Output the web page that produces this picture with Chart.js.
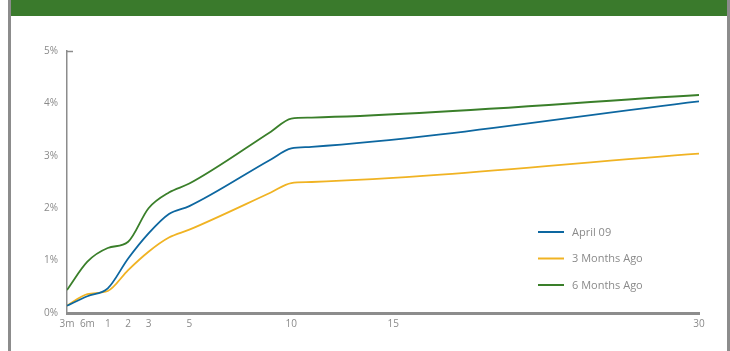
<!DOCTYPE html>
<html>
<head>
<meta charset="utf-8">
<script src="https://cdn.jsdelivr.net/npm/chart.js@4/dist/chart.umd.min.js"></script>
<style>
  body { margin: 0; background: #fff; }
  #wrap { position: relative; width: 730px; height: 351px; overflow: hidden; }
  #head { position: absolute; left: 11px; top: 0; width: 716px; height: 16px; background: #3a7a2c; }
  .bar { position: absolute; top: 0; width: 3px; height: 351px; background: #8c8c8c; }
  canvas { position: absolute; left: 0; top: 0; }
</style>
</head>
<body>
<div id="wrap">
  <div id="head"></div>
  <div class="bar" style="left:8px"></div>
  <div class="bar" style="left:727px"></div>
  <canvas id="yieldChart" width="730" height="351"></canvas>
</div>
<script>
// x positions on the axis (3m and 6m sit one step apart before year 1)
const maturities = [-1, 0, 1, 2, 3, 4, 5, 9, 10, 11, 30];
const tickPositions = [-1, 0, 1, 2, 3, 5, 10, 15, 30];
const tickLabels = ['3m', '6m', '1', '2', '3', '5', '10', '15', '30'];

const seriesNames = ['April 09', '3 Months Ago', '6 Months Ago'];
const april09 = [0.14, 0.32, 0.47, 1.04, 1.52, 1.89, 2.04, 2.93, 3.14, 3.17, 4.04];
const threeMonthsAgo = [0.14, 0.36, 0.42, 0.82, 1.17, 1.44, 1.59, 2.30, 2.48, 2.50, 3.04];
const sixMonthsAgo = [0.44, 0.98, 1.24, 1.36, 2.0, 2.3, 2.47, 3.46, 3.71, 3.73, 4.16];
const colors = ['#0d67a0', '#f0b323', '#3a7f2a'];

const toPoints = vals => vals.map((v, i) => ({ x: maturities[i], y: v }));

const datasets = [april09, threeMonthsAgo, sixMonthsAgo].map((vals, i) => ({
    label: seriesNames[i],
    data: toPoints(vals),
    borderColor: colors[i],
    backgroundColor: colors[i],
    borderWidth: 1.8,
    pointRadius: 0,
    fill: false,
    cubicInterpolationMode: 'monotone'
}));

// legend drawn inside the plot, lower right
const sideLegend = {
    id: 'sideLegend',
    afterDraw(chart) {
        const ctx = chart.ctx;
        ctx.save();
        ctx.font = '11px "Open Sans", sans-serif';
        ctx.textBaseline = 'middle';
        chart.data.datasets.forEach((ds, i) => {
            const y = 232 + i * 26.5;
            ctx.strokeStyle = ds.borderColor;
            ctx.lineWidth = 2;
            ctx.beginPath();
            ctx.moveTo(538, y);
            ctx.lineTo(564, y);
            ctx.stroke();
            ctx.fillStyle = '#8a8a8a';
            ctx.fillText(ds.label, 572, y + 0.5);
        });
        // small cap at top of y axis
        const a = chart.chartArea;
        ctx.strokeStyle = '#8c8c8c';
        ctx.lineWidth = 1.5;
        ctx.beginPath();
        ctx.moveTo(a.left, a.top + 0.5);
        ctx.lineTo(a.left + 6, a.top + 0.5);
        ctx.stroke();
        ctx.restore();
    }
};

const config = {
    type: 'line',
    data: { datasets: datasets },
    options: {
        responsive: false,
        animation: false,
        layout: { padding: { top: 51, right: 31, left: 0, bottom: 0 } },
        plugins: { legend: { display: false }, tooltip: { enabled: false } },
        scales: {
            x: {
                type: 'linear',
                min: -1,
                max: 30,
                afterBuildTicks: scale => { scale.ticks = tickPositions.map(v => ({ value: v })); },
                afterFit: scale => { scale.height = 38; },
                grid: { display: false, drawTicks: false },
                border: { color: '#8c8c8c', width: 3 },
                ticks: {
                    autoSkip: false,
                    maxRotation: 0,
                    padding: 5,
                    color: '#8a8a8a',
                    font: { family: 'Open Sans', size: 10 },
                    callback: v => tickLabels[tickPositions.indexOf(v)]
                }
            },
            y: {
                min: 0,
                max: 5,
                afterFit: scale => { scale.width = 67; },
                grid: { display: false, drawTicks: false },
                border: { color: '#8c8c8c', width: 1.5 },
                ticks: {
                    stepSize: 1,
                    padding: 9,
                    color: '#8a8a8a',
                    font: { family: 'Open Sans', size: 10 },
                    callback: v => v + '%'
                }
            }
        }
    },
    plugins: [sideLegend]
};

const canvas = document.getElementById('yieldChart');
const yieldChart = new Chart(canvas, config);
</script>
</body>
</html>
